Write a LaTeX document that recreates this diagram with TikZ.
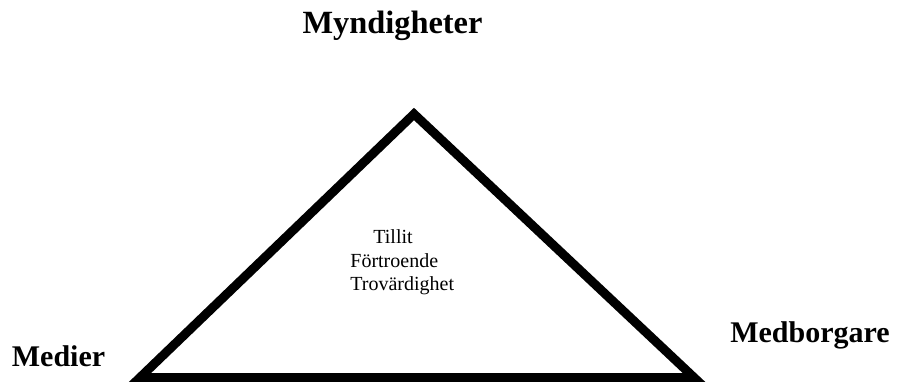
\documentclass[tikz,border=0pt]{standalone}
\usepackage{fontspec}
\setmainfont{Liberation Serif}
\usepackage{tikz}

\tikzset{
  corner/.style={font=\bfseries\fontsize{15}{18}\selectfont, anchor=base},
  inner/.style={font=\fontsize{10}{12}\selectfont, anchor=base west, inner sep=0pt}
}

\begin{document}
\begin{tikzpicture}[x=0.5pt,y=-0.5pt]
\useasboundingbox (0,0) rectangle (903,381);
\coordinate (top) at (414,114);
\coordinate (left) at (140,377.5);
\coordinate (right) at (694,377.5);
\draw[line width=4.5pt, miter limit=10] (top) -- (right) -- (left) -- cycle;
\node[corner, font=\bfseries\fontsize{16.2}{19}\selectfont] (myn) at (392.5,33) {Myndigheter};
\node[corner] (med) at (58.5,366) {Medier};
\node[corner] (bor) at (810,342) {Medborgare};
\node[inner] (t1) at (373,243) {Tillit};
\node[inner] (t2) at (350,267) {Förtroende};
\node[inner] (t3) at (350,290) {Trovärdighet};
\end{tikzpicture}
\end{document}
